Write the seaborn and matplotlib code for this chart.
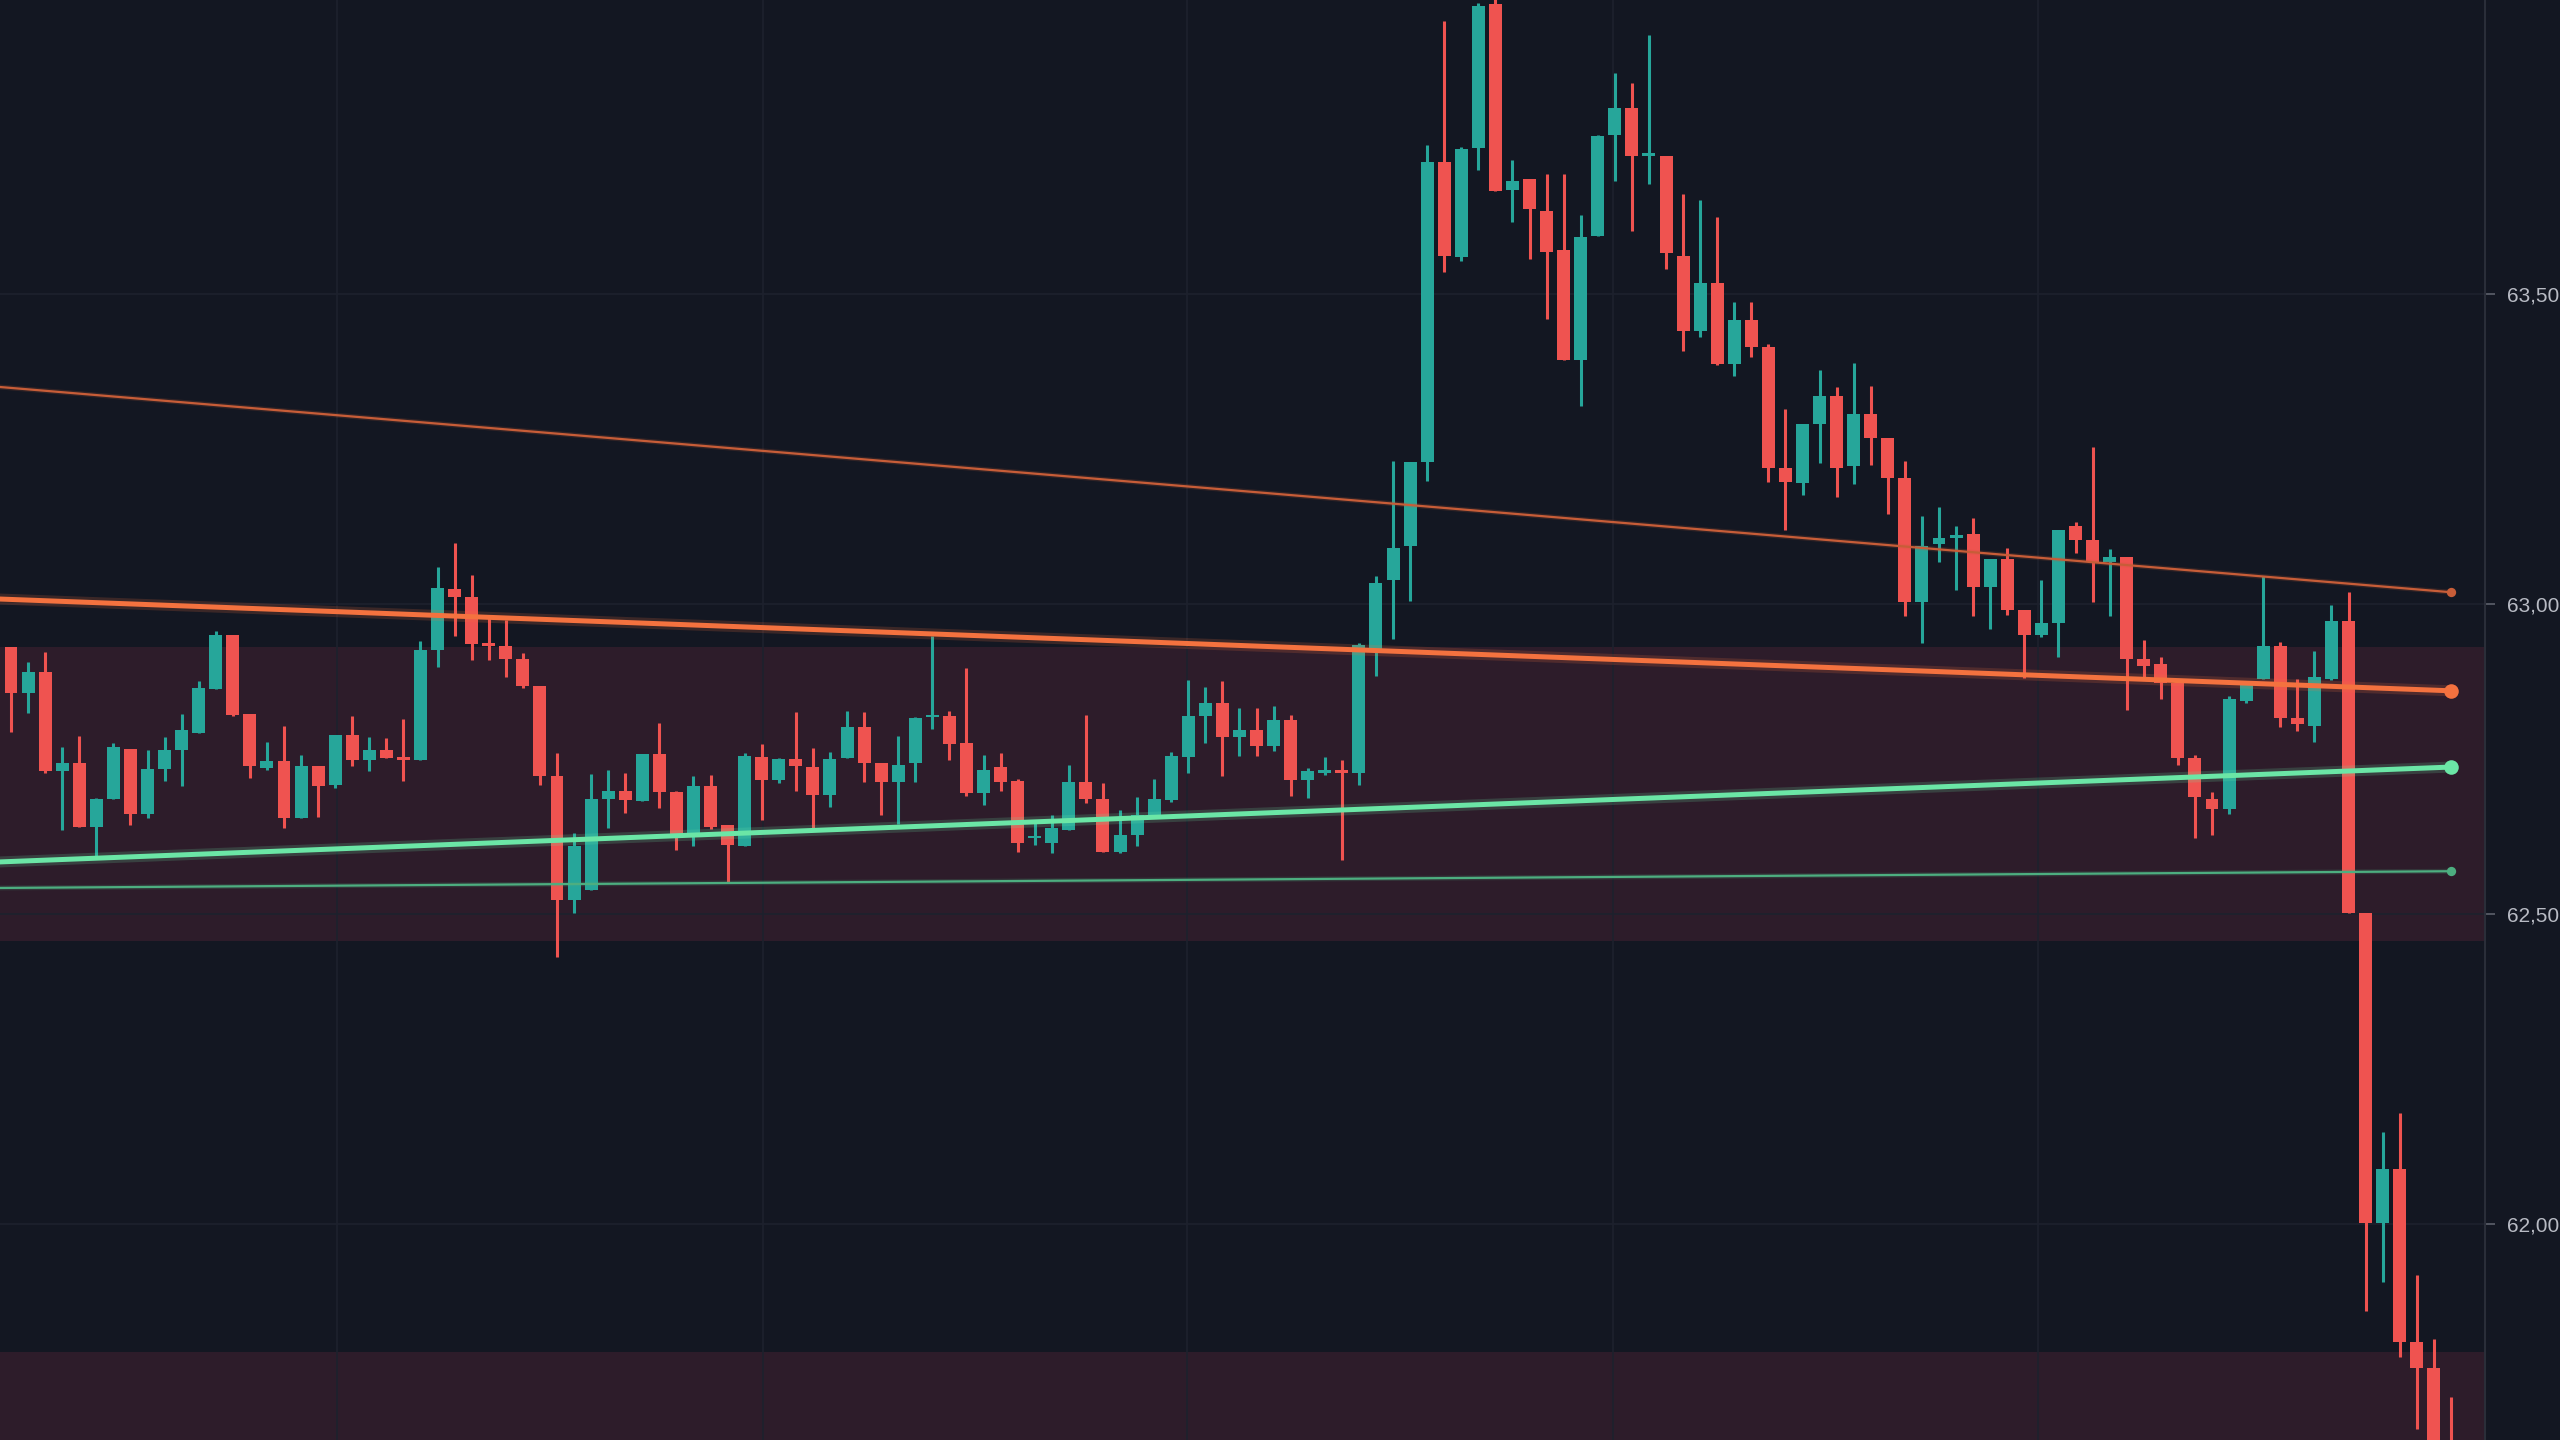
import numpy as np
import pandas as pd
import seaborn as sns
import matplotlib.pyplot as plt
import matplotlib.patheffects as pe
from matplotlib.ticker import FuncFormatter

# candle data, bar -1 is the one cut by the left edge
bar_index = list(range(-1, 144))

opens = [62990,
    62931, 62856, 62891, 62730, 62743, 62641, 62686, 62766, 62662, 62734,
    62765, 62792, 62863, 62950, 62822, 62735, 62746, 62655, 62738, 62708,
    62789, 62748, 62765, 62751, 62748, 62925, 63024, 63011, 62936, 62933,
    62912, 62867, 62723, 62523, 62539, 62686, 62699, 62683, 62758, 62696,
    62628, 62706, 62644, 62610, 62754, 62716, 62750, 62737, 62692, 62751,
    62802, 62743, 62713, 62744, 62817, 62819, 62775, 62695, 62737, 62715,
    62622, 62614, 62636, 62713, 62685, 62600, 62627, 62660, 62684, 62754,
    62819, 62840, 62785, 62796, 62771, 62813, 62716, 62728, 62730, 62728,
    62928, 63039, 63093, 63229, 63713, 63559, 63736, 63967, 63668, 63686,
    63634, 63571, 63394, 63594, 63757, 63800, 63722, 63722, 63562, 63441,
    63518, 63387, 63458, 63415, 63219, 63195, 63291, 63335, 63223, 63307,
    63267, 63203, 63004, 63097, 63107, 63113, 63028, 63072, 62990, 62950,
    62969, 63125, 63103, 63068, 63075, 62911, 62903, 62872, 62751, 62686,
    62669, 62844, 62879, 62932, 62816, 62804, 62879, 62972, 62501, 62001,
    62088, 61809, 61767, 61640]

highs = [63000,
    62931, 62907, 62923, 62770, 62787, 62687, 62776, 62766, 62765, 62786,
    62822, 62875, 62957, 62950, 62822, 62777, 62803, 62757, 62738, 62789,
    62819, 62786, 62784, 62814, 62940, 63060, 63099, 63047, 62982, 62974,
    62921, 62868, 62759, 62630, 62726, 62733, 62728, 62758, 62808, 62698,
    62722, 62724, 62644, 62759, 62774, 62751, 62825, 62767, 62762, 62828,
    62825, 62744, 62787, 62818, 62948, 62827, 62896, 62756, 62759, 62717,
    62646, 62660, 62740, 62821, 62711, 62668, 62688, 62717, 62762, 62877,
    62866, 62876, 62833, 62832, 62836, 62821, 62736, 62754, 62748, 62937,
    63045, 63231, 63229, 63740, 63940, 63737, 63970, 63990, 63716, 63686,
    63693, 63693, 63627, 63757, 63856, 63840, 63918, 63722, 63661, 63652,
    63625, 63487, 63487, 63420, 63314, 63291, 63378, 63350, 63389, 63352,
    63267, 63231, 63142, 63156, 63125, 63138, 63072, 63090, 62990, 63038,
    63120, 63133, 63253, 63088, 63075, 62942, 62914, 62872, 62756, 62697,
    62851, 62872, 63045, 62938, 62879, 62924, 62998, 63019, 62501, 62148,
    62179, 61917, 61815, 61721]

lows = [62930,
    62794, 62824, 62727, 62636, 62641, 62594, 62686, 62644, 62655, 62714,
    62706, 62792, 62863, 62819, 62719, 62733, 62638, 62655, 62657, 62703,
    62738, 62730, 62751, 62714, 62748, 62899, 62948, 62909, 62910, 62883,
    62864, 62708, 62431, 62501, 62539, 62638, 62663, 62683, 62671, 62603,
    62609, 62637, 62550, 62610, 62652, 62712, 62699, 62638, 62673, 62751,
    62713, 62660, 62645, 62713, 62799, 62748, 62690, 62676, 62699, 62600,
    62611, 62598, 62636, 62679, 62600, 62599, 62609, 62660, 62680, 62727,
    62775, 62723, 62755, 62755, 62763, 62690, 62687, 62724, 62587, 62708,
    62884, 62943, 63005, 63199, 63535, 63553, 63700, 63666, 63616, 63556,
    63460, 63394, 63320, 63594, 63682, 63601, 63677, 63541, 63408, 63431,
    63385, 63367, 63399, 63197, 63120, 63176, 63227, 63173, 63193, 63224,
    63145, 62980, 62937, 63067, 63023, 62981, 62959, 62982, 62880, 62947,
    62914, 63082, 63004, 62981, 62829, 62882, 62846, 62741, 62623, 62627,
    62662, 62840, 62879, 62802, 62795, 62777, 62877, 62501, 61859, 61906,
    61786, 61670, 61560, 61540]

closes = [62939,
    62856, 62891, 62730, 62743, 62641, 62686, 62769, 62662, 62734, 62765,
    62797, 62864, 62950, 62821, 62738, 62746, 62655, 62738, 62707, 62789,
    62748, 62765, 62751, 62749, 62925, 63025, 63012, 62936, 62933, 62912,
    62867, 62723, 62523, 62609, 62686, 62699, 62684, 62758, 62696, 62628,
    62706, 62641, 62611, 62755, 62716, 62750, 62738, 62692, 62750, 62802,
    62744, 62713, 62740, 62816, 62819, 62774, 62695, 62733, 62713, 62614,
    62625, 62638, 62713, 62685, 62600, 62627, 62660, 62685, 62755, 62819,
    62840, 62785, 62796, 62771, 62813, 62716, 62730, 62730, 62728, 62934,
    63034, 63091, 63229, 63713, 63562, 63734, 63965, 63666, 63682, 63637,
    63568, 63394, 63592, 63755, 63800, 63722, 63727, 63566, 63441, 63518,
    63387, 63458, 63414, 63219, 63196, 63290, 63335, 63220, 63307, 63267,
    63203, 63004, 63093, 63106, 63111, 63028, 63072, 62990, 62950, 62969,
    63120, 63103, 63067, 63076, 62911, 62900, 62872, 62751, 62688, 62669,
    62846, 62869, 62932, 62816, 62806, 62882, 62972, 62501, 62001, 62088,
    61809, 61767, 61610, 61580]

# support / resistance zones (price low, price high)
zone_lows = [62457, 61500]
zone_highs = [62930, 61794]

# trend lines: price at the left edge and at the last bar
trend_names = ["res_thin", "res_thick", "sup_thick", "sup_thin"]
trend_start = [63350, 63008, 62584, 62542]
trend_end = [63019, 62860, 62737, 62569]
trend_x = [-0.645, 143]

price_ticks = [62000, 62500, 63000, 63500]

BG = "#131722"
GRID = "#1d212d"
UP = "#26a69a"
DOWN = "#ef5350"
ZONE = "#2d1c2a"
line_colors = {"res_thin": "#c75d38", "res_thick": "#f4723f",
               "sup_thick": "#6be6a6", "sup_thin": "#4dae80"}
line_widths = {"res_thin": 1.6, "res_thick": 3.6, "sup_thick": 3.6, "sup_thin": 1.6}
dot_sizes = {"res_thin": 45, "res_thick": 110, "sup_thick": 110, "sup_thin": 45}

sns.set_theme(style="dark", rc={"axes.facecolor": BG, "figure.facecolor": BG})
plt.rcParams["font.family"] = ["Liberation Sans", "DejaVu Sans"]

df = pd.DataFrame({"x": bar_index, "open": opens, "high": highs,
                   "low": lows, "close": closes})
df["up"] = df["close"] >= df["open"]
df["color"] = np.where(df["up"], UP, DOWN)
df["body_low"] = df[["open", "close"]].min(axis=1)
df["body_h"] = (df["close"] - df["open"]).abs().clip(lower=4)

fig = plt.figure(figsize=(25.6, 14.4), dpi=100)
ax = fig.add_axes([0, 0, 2485 / 2560, 1])
ax.set_facecolor(BG)

for lo, hi in zip(zone_lows, zone_highs):
    ax.axhspan(lo, hi, color=ZONE, zorder=0, lw=0)

# faint grid
for p in price_ticks:
    ax.axhline(p, color=GRID, lw=1.2, zorder=0.5)
for gx in [19.1, 44.05, 68.95, 93.9, 118.8]:
    ax.axvline(gx, color=GRID, lw=1.2, zorder=0.5)

ax.vlines(df["x"], df["low"], df["high"], colors=df["color"], lw=2.2, zorder=2)
ax.bar(df["x"], df["body_h"], bottom=df["body_low"], width=0.76,
       color=df["color"], lw=0, zorder=3)

lines = pd.DataFrame({
    "x": trend_x * len(trend_names),
    "price": [v for s, e in zip(trend_start, trend_end) for v in (s, e)],
    "name": [n for n in trend_names for _ in range(2)],
})
for name in trend_names:
    sub = lines[lines["name"] == name]
    lw = line_widths[name]
    sns.lineplot(data=sub, x="x", y="price", ax=ax, color=line_colors[name],
                 lw=lw, zorder=4, estimator=None, sort=False,
                 path_effects=[pe.Stroke(linewidth=lw * 2.2, foreground=line_colors[name], alpha=0.18),
                               pe.Normal()])
    end = sub[sub["x"] == trend_x[1]]
    ax.scatter(end["x"], end["price"], s=dot_sizes[name], color=line_colors[name],
               zorder=5, lw=0)

ax.set_xlim(-0.645, 145.0)
ax.set_ylim(61651.6, 63974.2)
ax.set_xlabel("")
ax.set_ylabel("")
ax.set_xticks([])
ax.yaxis.tick_right()
ax.set_yticks(price_ticks)
ax.yaxis.set_major_formatter(FuncFormatter(lambda v, _: f"{v:,.0f}"))
ax.tick_params(axis="y", right=True, length=7.2, width=1.2, color="#5d616c",
               pad=8.6, labelsize=15, labelcolor="#b8bbc4")
for side in ["top", "left", "bottom"]:
    ax.spines[side].set_visible(False)
ax.spines["right"].set_color("#2a2e39")
ax.spines["right"].set_linewidth(1.5)
ax.grid(False)

fig.savefig("out.png", dpi=100, facecolor=BG)
